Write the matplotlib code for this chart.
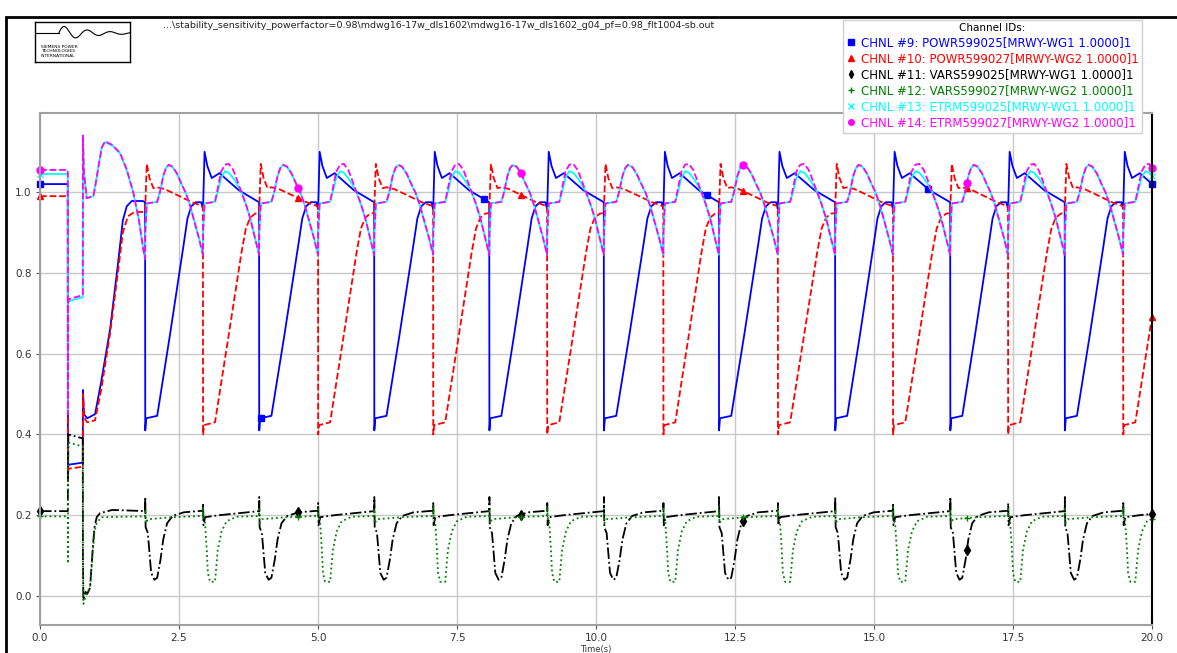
import numpy as np
import matplotlib
matplotlib.use("Agg")
import matplotlib.pyplot as plt
from matplotlib.lines import Line2D
from matplotlib.patches import Rectangle

# drop events (s): WG1 (blue) and WG2 (red) power collapses
B_EVENTS = [1.89, 3.94, 6.01, 8.08, 10.14, 12.21, 14.30, 16.37, 18.43, 20.50]
R_EVENTS = [2.93, 5.00, 7.07, 9.12, 11.21, 13.27, 15.34, 17.41, 19.48]
HALF_B = 1.05   # nominal time from a WG1 drop to the next WG2 drop
HALF_R = 1.02   # nominal time from a WG2 drop to the next WG1 drop

# start of run up to first WG1 drop (fault at 0.5 s, cleared 0.77 s)
POWR1_INIT_T = [0, 0.5, 0.502, 0.51, 0.77, 0.772, 0.79, 0.85, 0.99, 1.10, 1.26, 1.40, 1.49, 1.56, 1.65, 1.85, 1.89]
POWR1_INIT_V = [1.02, 1.02, 0.30, 0.325, 0.33, 0.51, 0.45, 0.44, 0.45, 0.53, 0.66, 0.82, 0.93, 0.965, 0.978, 0.978, 0.975]
POWR2_INIT_T = [0, 0.5, 0.502, 0.51, 0.77, 0.772, 0.80, 0.85, 0.99, 1.10, 1.26, 1.40, 1.49, 1.58, 1.70, 1.89]
POWR2_INIT_V = [0.99, 0.99, 0.28, 0.315, 0.32, 0.50, 0.44, 0.43, 0.435, 0.51, 0.65, 0.80, 0.90, 0.94, 0.951, 0.951]
VARS1_INIT_T = [0, 0.5, 0.502, 0.51, 0.77, 0.772, 0.78, 0.80, 0.82, 0.85, 0.90, 0.95, 0.98, 1.02, 1.08, 1.30, 1.89]
VARS1_INIT_V = [0.21, 0.21, 0.27, 0.40, 0.39, 0.10, -0.01, 0.0, 0.01, 0.005, 0.02, 0.12, 0.17, 0.195, 0.205, 0.213, 0.21]
VARS2_INIT_T = [0, 0.5, 0.502, 0.51, 0.77, 0.772, 0.78, 0.80, 0.85, 0.90, 0.95, 0.98, 1.02, 1.10, 1.89]
VARS2_INIT_V = [0.197, 0.197, 0.08, 0.38, 0.37, 0.10, -0.02, -0.01, 0.01, 0.02, 0.11, 0.16, 0.18, 0.195, 0.197]
ETRM_INIT_T = [0, 0.5, 0.502, 0.505, 0.52, 0.77, 0.772, 0.79, 0.84, 0.96, 1.0, 1.05, 1.11, 1.17, 1.30, 1.44, 1.56, 1.68, 1.78, 1.86, 1.89]
ETRM1_INIT_V = [1.045, 1.045, 0.45, 0.72, 0.73, 0.74, 1.135, 1.05, 0.985, 0.99, 1.02, 1.062, 1.11, 1.124, 1.115, 1.096, 1.055, 0.997, 0.93, 0.856, 0.835]
ETRM2_INIT_V = [1.055, 1.055, 0.45, 0.725, 0.735, 0.745, 1.14, 1.05, 0.985, 0.99, 1.02, 1.062, 1.11, 1.126, 1.117, 1.097, 1.056, 0.998, 0.93, 0.856, 0.835]

# shape after a WG1 drop (offset s, value)
POWR1_AFTER_B = ([0.003, 0.02, 0.22, 0.45, 0.70, 0.77, 0.84, 0.92, 1.02, 1.05],
                 [0.41, 0.44, 0.446, 0.645, 0.87, 0.935, 0.965, 0.975, 0.975, 0.958])
POWR2_AFTER_B = ([0.003, 0.03, 0.08, 0.15, 0.22, 0.35, 0.55, 0.85, 1.05],
                 [0.96, 1.07, 1.035, 1.01, 1.012, 1.008, 0.995, 0.975, 0.965])
VARS1_AFTER_B = ([0.003, 0.01, 0.05, 0.09, 0.11, 0.17, 0.22, 0.28, 0.33, 0.40, 0.50, 0.70, 1.05],
                 [0.245, 0.17, 0.156, 0.09, 0.057, 0.04, 0.045, 0.09, 0.14, 0.18, 0.198, 0.207, 0.211])
VARS2_AFTER_B = ([0.003, 0.01, 0.05, 0.5, 1.05],
                 [0.215, 0.18, 0.19, 0.195, 0.198])
ETRM_AFTER_B_T = [0.003, 0.03, 0.22, 0.27, 0.33, 0.38, 0.43, 0.50, 0.58, 0.66, 0.74, 0.82, 0.90, 0.98, 1.05]
ETRM1_AFTER_B_V = [0.90, 0.972, 0.976, 1.0, 1.04, 1.06, 1.067, 1.062, 1.045, 1.02, 0.997, 0.965, 0.925, 0.885, 0.845]
ETRM2_AFTER_B_V = [0.90, 0.972, 0.976, 1.0, 1.04, 1.06, 1.068, 1.063, 1.046, 1.021, 0.998, 0.965, 0.925, 0.885, 0.845]

# shape after a WG2 drop
POWR1_AFTER_R = ([0.003, 0.03, 0.08, 0.16, 0.22, 0.30, 0.40, 0.65, 1.02],
                 [0.96, 1.10, 1.065, 1.035, 1.04, 1.047, 1.035, 1.005, 0.975])
POWR2_AFTER_R = ([0.003, 0.02, 0.22, 0.45, 0.70, 0.78, 0.86, 0.95, 1.02],
                 [0.40, 0.423, 0.43, 0.63, 0.85, 0.91, 0.937, 0.947, 0.948])
VARS1_AFTER_R = ([0.003, 0.01, 0.04, 0.3, 1.02],
                 [0.23, 0.175, 0.195, 0.2, 0.21])
VARS2_AFTER_R = ([0.003, 0.01, 0.04, 0.07, 0.09, 0.13, 0.22, 0.27, 0.34, 0.43, 0.61, 1.02],
                 [0.22, 0.195, 0.18, 0.114, 0.057, 0.035, 0.035, 0.114, 0.16, 0.185, 0.196, 0.198])
ETRM_AFTER_R_T = [0.003, 0.03, 0.22, 0.27, 0.33, 0.40, 0.47, 0.55, 0.62, 0.70, 0.78, 0.86, 0.94, 1.02]
ETRM1_AFTER_R_V = [0.90, 0.972, 0.976, 1.0, 1.035, 1.052, 1.048, 1.035, 1.02, 1.0, 0.97, 0.935, 0.89, 0.845]
ETRM2_AFTER_R_V = [0.90, 0.972, 0.976, 1.01, 1.05, 1.068, 1.07, 1.055, 1.03, 1.0, 0.97, 0.935, 0.89, 0.845]

# marker positions seen on the traces (s)
MARK_T_WG1 = [0, 3.97, 7.99, 12.0, 15.97, 20.0]
MARK_T = [0, 4.64, 8.65, 12.65, 16.67, 20.0]

LABELS = ["CHNL #9: POWR599025[MRWY-WG1 1.0000]1",
          "CHNL #10: POWR599027[MRWY-WG2 1.0000]1",
          "CHNL #11: VARS599025[MRWY-WG1 1.0000]1",
          "CHNL #12: VARS599027[MRWY-WG2 1.0000]1",
          "CHNL #13: ETRM599025[MRWY-WG1 1.0000]1",
          "CHNL #14: ETRM599027[MRWY-WG2 1.0000]1"]
PATH = r"...\stability_sensitivity_powerfactor=0.98\mdwg16-17w_dls1602\mdwg16-17w_dls1602_g04_pf=0.98_flt1004-sb.out"

events = sorted([(t, "B") for t in B_EVENTS] + [(t, "R") for t in R_EVENTS])


def build(init_t, init_v, after_b, after_r):
    t = list(init_t)
    v = list(init_v)
    for k, (t0, kind) in enumerate(events[:-1]):
        t1 = events[k + 1][0]
        tt, vv = after_b if kind == "B" else after_r
        scale = (t1 - t0) / (HALF_B if kind == "B" else HALF_R)
        t += [t0 + x * scale for x in tt]
        v += list(vv)
    return np.array(t), np.array(v)


series = [
    build(POWR1_INIT_T, POWR1_INIT_V, POWR1_AFTER_B, POWR1_AFTER_R),
    build(POWR2_INIT_T, POWR2_INIT_V, POWR2_AFTER_B, POWR2_AFTER_R),
    build(VARS1_INIT_T, VARS1_INIT_V, VARS1_AFTER_B, VARS1_AFTER_R),
    build(VARS2_INIT_T, VARS2_INIT_V, VARS2_AFTER_B, VARS2_AFTER_R),
    build(ETRM_INIT_T, ETRM1_INIT_V, (ETRM_AFTER_B_T, ETRM1_AFTER_B_V), (ETRM_AFTER_R_T, ETRM1_AFTER_R_V)),
    build(ETRM_INIT_T, ETRM2_INIT_V, (ETRM_AFTER_B_T, ETRM2_AFTER_B_V), (ETRM_AFTER_R_T, ETRM2_AFTER_R_V)),
]
colors = ["blue", "red", "black", "green", "cyan", "magenta"]
styles = ["-", "--", "-.", ":", "-", "--"]
markers = ["s", "^", "d", "+", "x", "o"]
mark_times = [MARK_T_WG1, MARK_T, MARK_T, MARK_T, MARK_T, MARK_T]

W, H = 1177, 653
fig = plt.figure(figsize=(W / 100, H / 100), dpi=100)
ax = fig.add_axes([40 / W, 1 - 625 / H, 1112 / W, 512 / H])

for (t, v), c, ls, m, mt in zip(series, colors, styles, markers, mark_times):
    ax.plot(t, v, color=c, linestyle=ls, linewidth=1.3)
    ax.plot(mt, np.interp(mt, t, v), linestyle="None", marker=m, color=c,
            markersize=5, clip_on=False)

ax.set_xlim(0, 20)
ax.set_ylim(-0.072, 1.196)
ax.set_xticks([0, 2.5, 5, 7.5, 10, 12.5, 15, 17.5, 20])
ax.set_yticks([0, 0.2, 0.4, 0.6, 0.8, 1.0])
ax.xaxis.set_major_formatter(plt.FormatStrFormatter("%.1f"))
ax.yaxis.set_major_formatter(plt.FormatStrFormatter("%.1f"))
ax.grid(True, color="#c8c8c8", linewidth=1)
ax.tick_params(labelsize=7.5, labelcolor="#333333", color="#555555", length=3, pad=3)
for side in ["left", "bottom", "top"]:
    ax.spines[side].set_color("#a0a0a0")
    ax.spines[side].set_linewidth(1.5)
ax.spines["right"].set_color("black")
ax.spines["right"].set_linewidth(1.5)
ax.set_xlabel("Time(s)", fontsize=6, labelpad=1, color="#333333")

handles = [Line2D([], [], linestyle="None", marker=m, color=c, markersize=4)
           for m, c in zip(markers, colors)]
leg = fig.legend(handles, LABELS, loc="upper right", bbox_to_anchor=(1148 / W, 1 - 14 / H),
                 fontsize=8.5, title="Channel IDs:", title_fontsize=7.5, handlelength=0.8,
                 handletextpad=0.4, labelspacing=0.25, borderpad=0.3, framealpha=1,
                 edgecolor="#d0d0d0", fancybox=False)
for txt, c in zip(leg.get_texts(), colors):
    txt.set_color(c)

# outer frame
fig.add_artist(Rectangle((6 / W, -0.1), 1.2, 1 - 17 / H + 0.1, transform=fig.transFigure,
                         fill=False, edgecolor="black", linewidth=2))

# logo
lax = fig.add_axes([35 / W, 1 - 62 / H, 95 / W, 40 / H])
lax.set_xlim(0, 1)
lax.set_ylim(0, 1)
lax.set_xticks([])
lax.set_yticks([])
for s in lax.spines.values():
    s.set_linewidth(1)
xs = np.linspace(0.25, 1.0, 120)
lax.plot([0, 0.25], [0.72, 0.72], color="black", lw=0.8)
lax.plot(xs, 0.72 + 0.2 * np.sin((xs - 0.25) * 26) * np.exp(-(xs - 0.25) * 3), color="black", lw=0.8)
lax.text(0.06, 0.42, "SIEMENS POWER\nTECHNOLOGIES\nINTERNATIONAL", fontsize=3.2,
         va="top", ha="left", linespacing=1.1)

fig.text(163 / W, 1 - 26 / H, PATH, fontsize=6.8, va="center", ha="left", color="#222222")

fig.savefig("out.png", dpi=100)
